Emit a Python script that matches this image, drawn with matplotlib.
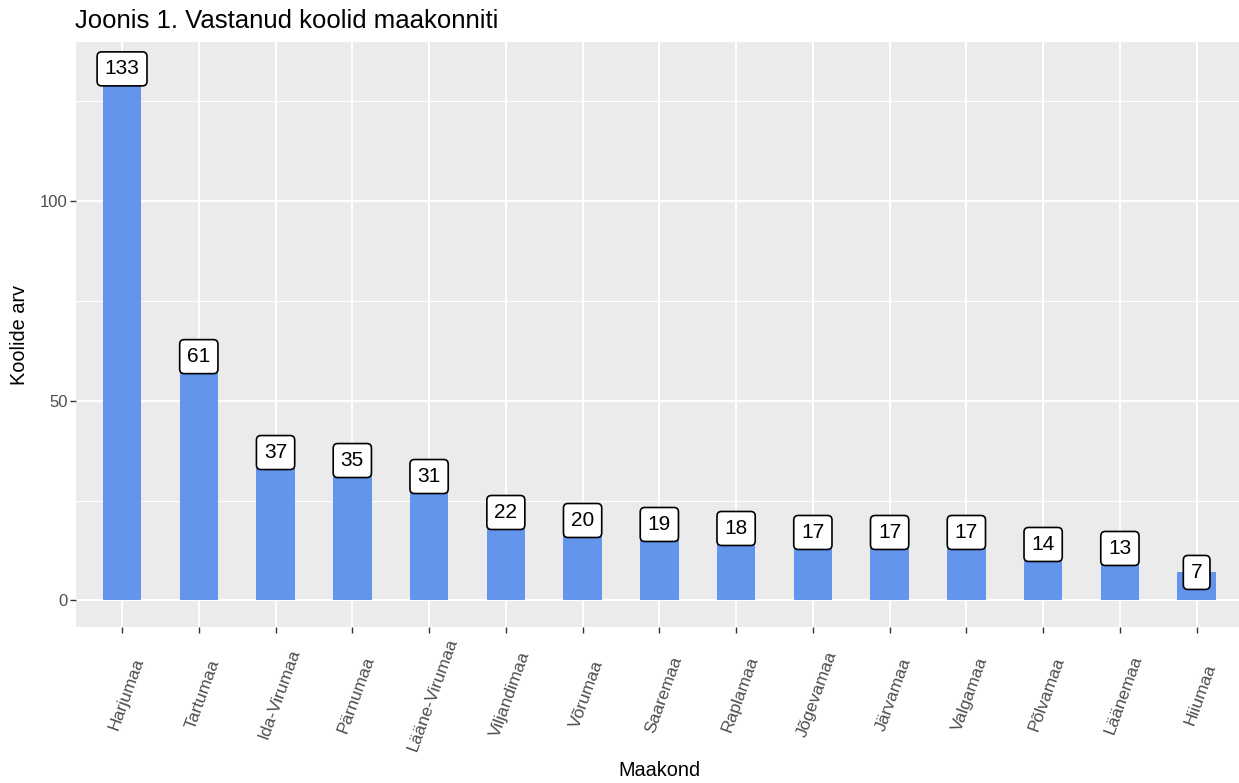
import matplotlib
matplotlib.use("Agg")
import matplotlib.pyplot as plt
from matplotlib.transforms import ScaledTranslation
import numpy as np

categories = ["Harjumaa", "Tartumaa", "Ida-Virumaa", "Pärnumaa", "Lääne-Virumaa",
              "Viljandimaa", "Võrumaa", "Saaremaa", "Raplamaa", "Jõgevamaa",
              "Järvamaa", "Valgamaa", "Põlvamaa", "Läänemaa", "Hiiumaa"]
counts = [133, 61, 37, 35, 31, 22, 20, 19, 18, 17, 17, 17, 14, 13, 7]
yticks_major = [0, 50, 100]
yticks_minor = [25, 75, 125]

title = "Joonis 1. Vastanud koolid maakonniti"
xlabel = "Maakond"
ylabel = "Koolide arv"

plt.rcParams['font.family'] = ['Liberation Sans', 'DejaVu Sans']

W, H = 1239, 783
fig = plt.figure(figsize=(W / 100, H / 100), dpi=100)
fig.patch.set_facecolor("white")

left_px, right_px, top_px, bottom_px = 76, 1242.7, 42.3, 627
ax = fig.add_axes([left_px / W, 1 - bottom_px / H,
                   (right_px - left_px) / W, (bottom_px - top_px) / H])
ax.set_facecolor("#EBEBEB")
for s in ax.spines.values():
    s.set_visible(False)

x = np.arange(len(categories))
ax.bar(x, counts, width=0.5, color="#6495ED", zorder=2)

for xi, v in zip(x, counts):
    ax.text(xi, v, str(v), ha="center", va="center", fontsize=15, color="black",
            zorder=4,
            bbox=dict(boxstyle="round,pad=0.36,rounding_size=0.22", facecolor="white",
                      edgecolor="black", linewidth=1.2))

ymax = max(counts)
ax.set_ylim(-0.05 * ymax, 1.05 * ymax)
ax.set_xlim(-0.6, len(categories) - 0.4)

ax.set_yticks(yticks_major)
ax.set_yticks(yticks_minor, minor=True)
ax.set_xticks(x)
ax.set_xticklabels(categories)

ax.grid(which="major", color="white", linewidth=1.4, zorder=0)
ax.grid(which="minor", axis="y", color="white", linewidth=0.7, zorder=0)
ax.set_axisbelow(True)

ax.tick_params(axis="y", which="major", length=4, width=1, color="#333333",
               labelsize=12, labelcolor="#4D4D4D", pad=2)
ax.tick_params(axis="y", which="minor", length=0)
ax.tick_params(axis="x", which="major", length=4, width=1, color="#333333",
               labelsize=12.5, labelcolor="#4D4D4D", pad=44.5)

offset = ScaledTranslation(4 / 100, 0, fig.dpi_scale_trans)
for lab in ax.get_xticklabels():
    lab.set_rotation(70)
    lab.set_rotation_mode("anchor")
    lab.set_ha("center")
    lab.set_va("center")
    lab.set_transform(lab.get_transform() + offset)

ax.set_xlabel(xlabel, fontsize=14.3, color="black")
ax.set_ylabel(ylabel, fontsize=14.3, color="black")
ax.xaxis.label.set_va("center")
ax.yaxis.label.set_va("center")
ax.xaxis.set_label_coords((659 - left_px) / (right_px - left_px),
                          -(771 - bottom_px) / (bottom_px - top_px))
ax.yaxis.set_label_coords(-(76 - 20) / (right_px - left_px), 0.5)

fig.text(75 / W, 1 - 27.5 / H, title, ha="left", va="baseline", fontsize=18.5, color="black")

fig.savefig("out.png", dpi=100)
